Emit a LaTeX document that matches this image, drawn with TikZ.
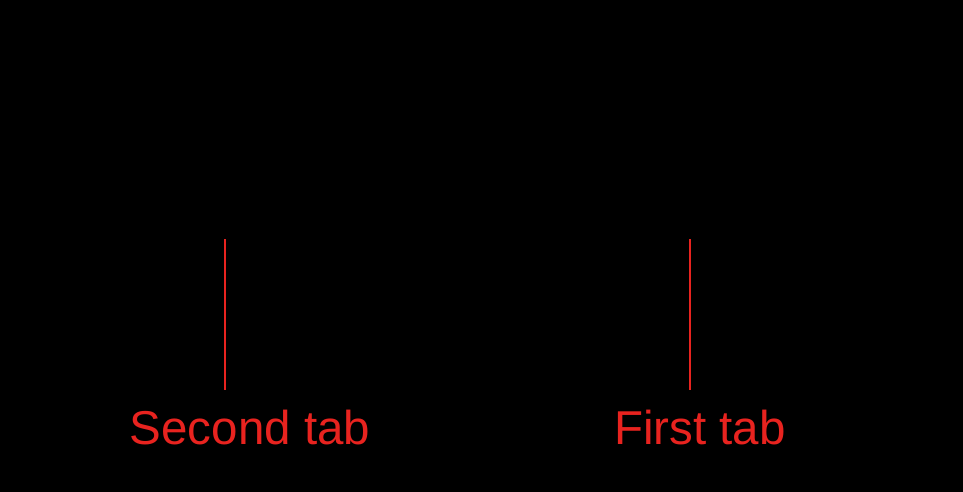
\documentclass[tikz,border=0pt]{standalone}
\usepackage{fontspec}
\setmainfont{Liberation Sans}
\definecolor{tabred}{RGB}{232,35,31}
\tikzset{
	tabline/.style={line width=1.5pt, color=tabred},
	tablabel/.style={text=tabred, font=\fontsize{47.5}{57}\selectfont, anchor=base, inner sep=0pt}
}

\begin{document}
\begin{tikzpicture}[x=1pt, y=-1pt]
			%%%%% START %%%%%
			
			\fill[black] (0, 0) rectangle (963, 492);
			\useasboundingbox (0, 0) rectangle (963, 492);
			
			\coordinate (secondtop) at (225, 239);
			\coordinate (secondfoot) at (225, 390);
			\coordinate (firsttop) at (690, 239);
			\coordinate (firstfoot) at (690, 390);
			
			\draw[tabline] (secondtop) -- (secondfoot);
			\draw[tabline] (firsttop) -- (firstfoot);
			
			\node[tablabel] (second) at (250, 444) {Second tab};
			\node[tablabel] (first) at (700, 444) {First tab};
			
			%%%%% END %%%%%
		\end{tikzpicture}
\end{document}
